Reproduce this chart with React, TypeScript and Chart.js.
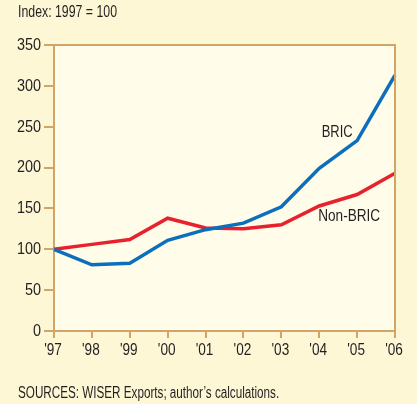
import React, { useEffect, useRef } from "react";
import { Chart, registerables } from "chart.js";

Chart.register(...registerables);

const years = ["'97", "'98", "'99", "'00", "'01", "'02", "'03", "'04", "'05", "'06"];
const bric = [100, 81, 83, 111, 124, 132, 152, 199, 233, 313];
const nonBric = [100, 106, 112, 138, 126, 125, 130, 153, 167, 193];
const yTicks = [0, 50, 100, 150, 200, 250, 300, 350];

const FONT = "'Liberation Sans', Arial, sans-serif";
const BG = "#fdf7d6";
const PLOT_BG = "#fffce9";
const AXIS = "#d2a467";
const BLUE = "#0b6fbd";
const RED = "#e8212e";
const INK = "#231f20";

function condensed(ctx: any, text: string, x: number, y: number, align: string, sq: number) {
  ctx.save();
  ctx.translate(x, y);
  ctx.scale(sq, 1);
  ctx.textAlign = align;
  ctx.fillText(text, 0, 0);
  ctx.restore();
}

const decor = {
  id: "decor",
  beforeDraw(chart: any) {
    const { ctx, chartArea: a, width, height } = chart;
    ctx.save();
    ctx.fillStyle = BG;
    ctx.fillRect(0, 0, width, height);
    ctx.fillStyle = PLOT_BG;
    ctx.fillRect(a.left, a.top, a.right - a.left, a.bottom - a.top);
    ctx.restore();
  },
  afterDraw(chart: any) {
    const { ctx, chartArea: a, scales } = chart;
    ctx.save();
    ctx.strokeStyle = AXIS;
    ctx.lineWidth = 2;
    ctx.beginPath();
    ctx.moveTo(a.left, a.top);
    ctx.lineTo(a.right, a.top);
    ctx.lineTo(a.right, a.bottom);
    ctx.stroke();
    ctx.fillStyle = INK;
    ctx.font = "16px " + FONT;
    ctx.textBaseline = "middle";
    condensed(ctx, "Index: 1997 = 100", 18, 13, "left", 0.77);
    condensed(ctx, "SOURCES: WISER Exports; author\u2019s calculations.", 18, 394, "left", 0.73);
    const x = scales.x;
    const y = scales.y;
    yTicks.forEach((v) => condensed(ctx, String(v), 41, y.getPixelForValue(v) + 0.5, "right", 0.9));
    years.forEach((lab, i) => condensed(ctx, lab, x.getPixelForValue(i) - 1, 351, "center", 0.85));
    const mid = (x.getPixelForValue(7) + x.getPixelForValue(8)) / 2;
    condensed(ctx, "BRIC", mid - 1, y.getPixelForValue(243), "center", 0.81);
    condensed(ctx, "Non-BRIC", mid + 11, y.getPixelForValue(140), "center", 0.85);
    ctx.restore();
  },
};

export default function App() {
  const ref = useRef<HTMLCanvasElement>(null);
  useEffect(() => {
    document.body.style.margin = "0";
    const chart = new Chart(ref.current!, {
      type: "line",
      data: {
        labels: years,
        datasets: [
          { label: "BRIC", data: bric, borderColor: BLUE, borderWidth: 3.5, pointRadius: 0, tension: 0 },
          { label: "Non-BRIC", data: nonBric, borderColor: RED, borderWidth: 3.5, pointRadius: 0, tension: 0 },
        ],
      },
      options: {
        animation: false,
        responsive: false,
        layout: { padding: { left: 0, top: 45, right: 22, bottom: 0 } },
        plugins: { legend: { display: false }, tooltip: { enabled: false } },
        scales: {
          x: {
            offset: false,
            grid: { drawOnChartArea: false, drawTicks: true, tickLength: 7, color: AXIS, lineWidth: 2 },
            border: { color: AXIS, width: 2 },
            ticks: { color: "rgba(0,0,0,0)", font: { family: FONT, size: 15 }, padding: 3, maxRotation: 0, autoSkip: false },
            afterFit: (s: any) => { s.height = 73; },
          },
          y: {
            min: 0,
            max: 350,
            afterBuildTicks: (s: any) => { s.ticks = yTicks.map((v) => ({ value: v })); },
            grid: { drawOnChartArea: false, drawTicks: true, tickLength: 10, color: AXIS, lineWidth: 2 },
            border: { color: AXIS, width: 2 },
            ticks: { color: "rgba(0,0,0,0)", font: { family: FONT, size: 15 }, padding: 2 },
            afterFit: (s: any) => { s.width = 54; },
          },
        },
      },
      plugins: [decor],
    });
    return () => chart.destroy();
  }, []);
  return (
    <div style={{ width: 417, height: 404 }}>
      <canvas ref={ref} width={417} height={404} style={{ display: "block" }} />
    </div>
  );
}
